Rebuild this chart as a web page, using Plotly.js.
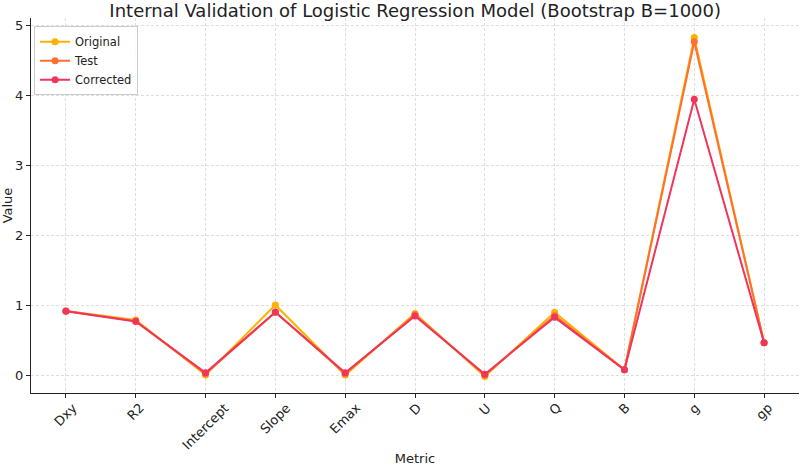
<!DOCTYPE html>
<html>
<head>
<meta charset="utf-8">
<script src="https://cdn.plot.ly/plotly-3.0.1.min.js"></script>
<style>html,body{margin:0;padding:0;background:#fff}#chart{width:800px;height:466px}</style>
</head>
<body>
<div id="chart"></div>
<script>
// Bootstrap validation metrics for the logistic regression model
const metrics = ["Dxy", "R2", "Intercept", "Slope", "Emax", "D", "U", "Q", "B", "g", "gp"];
const original  = [0.915, 0.785, 0.0,   1.0,   0.0,   0.88,  -0.02, 0.895, 0.075, 4.82, 0.46];
const test      = [0.915, 0.77,  0.02,  0.90,  0.02,  0.86,  0.0,   0.85,  0.075, 4.76, 0.46];
const corrected = [0.912, 0.765, 0.033, 0.895, 0.033, 0.843, 0.012, 0.824, 0.075, 3.94, 0.46];
const yTicks = [0, 1, 2, 3, 4, 5];

const seriesNames = ["Original", "Test", "Corrected"];
const seriesValues = [original, test, corrected];
const seriesColors = ["#ffb000", "#ff7030", "#f0345a"];

const xs = metrics.map((_, i) => i);

const traces = seriesNames.map((name, k) => ({
  type: "scatter",
  mode: "lines+markers",
  name: name,
  x: xs,
  y: seriesValues[k],
  line: {color: seriesColors[k], width: 2},
  marker: {color: seriesColors[k], size: 7}
}));

// rotated category labels, centred under each tick
const labelAnnotations = metrics.map((m, i) => ({
  x: i, xref: "x",
  y: -0.012, yref: "paper",
  text: m,
  showarrow: false,
  textangle: -45,
  xanchor: "center", yanchor: "top",
  font: {family: "DejaVu Sans", size: 13, color: "#222"}
}));

const gridStyle = {showgrid: true, gridcolor: "#d6d6d6", griddash: "3px,2px", gridwidth: 0.8};

const layout = {
  width: 800, height: 466,
  margin: {l: 31, r: 1, t: 18, b: 73},
  paper_bgcolor: "#fff", plot_bgcolor: "#fff",
  font: {family: "DejaVu Sans", color: "#222"},
  title: {
    text: "Internal Validation of Logistic Regression Model (Bootstrap B=1000)",
    font: {family: "DejaVu Sans", size: 18, color: "#222"},
    x: 0.519, xanchor: "center",
    y: 0.978, yanchor: "middle", yref: "container"
  },
  xaxis: Object.assign({
    range: [-0.5, metrics.length - 0.5],
    tickvals: xs,
    showticklabels: false,
    ticks: "outside", ticklen: 4, tickcolor: "#222",
    showline: true, linecolor: "#222", linewidth: 1.2,
    zeroline: false,
    title: {text: "Metric", font: {size: 13, color: "#222"}, standoff: 58}
  }, gridStyle),
  yaxis: Object.assign({
    range: [-0.257, 5.1],
    tickvals: yTicks,
    ticks: "outside", ticklen: 4, tickcolor: "#222",
    tickfont: {size: 13, color: "#222"},
    showline: true, linecolor: "#222", linewidth: 1.2,
    zeroline: false,
    title: {text: "Value", font: {size: 13, color: "#222"}, standoff: 5}
  }, gridStyle),
  legend: {
    x: 0.004, xanchor: "left",
    y: 0.978, yanchor: "top",
    bgcolor: "rgba(255,255,255,0.85)",
    bordercolor: "#ccc", borderwidth: 1,
    font: {size: 11.5, color: "#222"},
    itemwidth: 30, tracegroupgap: 0
  },
  annotations: labelAnnotations,
  showlegend: true
};

Plotly.newPlot("chart", traces, layout, {displayModeBar: false, staticPlot: true});
</script>
</body>
</html>
